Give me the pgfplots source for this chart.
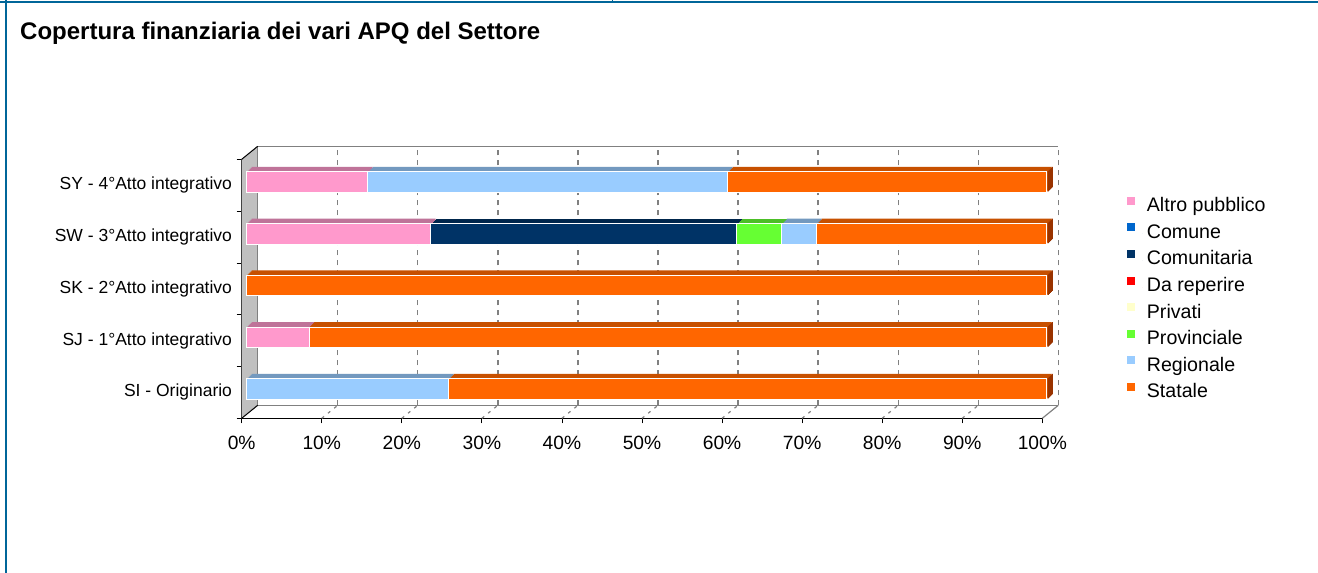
\documentclass[border=0pt]{standalone}
\usepackage{fontspec}
\setmainfont{Liberation Sans}
\usepackage{pgfplots}
\pgfplotsset{compat=1.18}
\usepackage{pgfplotstable}

\definecolor{altro}{HTML}{FF99CC}
\definecolor{comune}{HTML}{0066CC}
\definecolor{comunitaria}{HTML}{003366}
\definecolor{darep}{HTML}{FF0000}
\definecolor{privati}{HTML}{FFFFCC}
\definecolor{provinciale}{HTML}{66FF33}
\definecolor{regionale}{HTML}{99CCFF}
\definecolor{statale}{HTML}{FF6600}
\definecolor{statside}{HTML}{993300}
\definecolor{bordblue}{HTML}{006699}
\definecolor{wallgray}{HTML}{C0C0C0}
\definecolor{gridgray}{HTML}{808080}

\pgfplotstableread{
idx Altro Comune Comunitaria DaReperire Privati Provinciale Regionale Statale
0 0    0 0     0 0 0    25.25 74.75
1 7.8  0 0     0 0 0    0     92.2
2 0    0 0     0 0 0    0     100
3 23.0 0 38.25 0 0 5.65 4.35  28.75
4 15.1 0 0     0 0 0    45.0  39.9
}\datatable

\pgfplotsset{
  barax/.style={scale only axis, width=800pt, height=258.75pt, anchor=south west,
    xmin=0, xmax=100, ymin=-0.5, ymax=4.5, hide axis, clip=false,
    xbar stacked, bar width=20.5pt},
  sq/.style={legend image code/.code={\fill[##1,draw=none] (0pt,2.5pt) rectangle (8pt,10.5pt);\path (0pt,0pt) -- (15pt,0pt);}},
}
\tikzset{bk/.style={shift={(16pt,13pt)}}}
\newcommand{\catfont}{\fontsize{17.5}{21}\selectfont}
\newcommand{\tickfont}{\fontsize{19.2}{23}\selectfont}
\newcommand{\legfont}{\fontsize{19.6}{23}\selectfont}

\begin{document}
\begin{tikzpicture}
\path[use as bounding box, fill=white] (0pt,0pt) rectangle (1318pt,-573pt);
\fill[bordblue] (0pt,-0.9pt) rectangle (1318pt,-2.7pt);
\fill[bordblue] (5pt,0pt) rectangle (6.8pt,-573pt);
\fill[bordblue] (611.5pt,0pt) rectangle (613pt,-2pt);
\node[anchor=base west, inner sep=0pt, font=\bfseries\fontsize{24}{28}\selectfont] at (20pt,-39pt) {Copertura finanziaria dei vari APQ del Settore};

% frame: walls, gridlines, axes
\begin{axis}[
  at={(241.7pt,-418.3pt)}, anchor=south west,
  scale only axis, width=800.6pt, height=259pt,
  xmin=0, xmax=100, ymin=-0.5, ymax=4.5,
  clip=false,
  axis lines*=left, axis line style={-, black, line width=1pt},
  xtick={0,10,...,100},
  xticklabel={\pgfmathprintnumber{\tick}\%},
  ytick={-0.5,0.5,1.5,2.5,3.5,4.5}, yticklabels={},
  extra y ticks={0,1,2,3,4},
  extra y tick labels={SI - Originario, SJ - 1°Atto integrativo, SK - 2°Atto integrativo, SW - 3°Atto integrativo, SY - 4°Atto integrativo},
  extra y tick style={major tick length=0pt},
  tick align=outside, major tick length=5pt,
  tick style={black, line width=0.8pt},
  /pgf/number format/assume math mode=true,
  yticklabel style={font=\catfont, anchor=east, inner sep=0pt, xshift=-9.5pt},
  xticklabel style={font=\tickfont, anchor=north, inner sep=0pt, yshift=-12.5pt},
]
\fill[wallgray] (axis cs:0,-0.5) -- (axis cs:0,4.5) -- ([bk]axis cs:0,4.5) -- ([bk]axis cs:0,-0.5) -- cycle;
\pgfplotsinvokeforeach{10,20,...,90}{
  \draw[gridgray, line width=1.3pt, dash pattern=on 5pt off 5pt] ([bk]axis cs:#1,-0.5) -- ([bk]axis cs:#1,4.5);
  \draw[gridgray, line width=1.2pt, dash pattern=on 3pt off 5pt] (axis cs:#1,-0.5) -- ([bk]axis cs:#1,-0.5);
}
\draw[gridgray, line width=1.3pt, dash pattern=on 5pt off 5pt] ([bk]axis cs:100,-0.5) -- ([bk]axis cs:100,4.5);
\draw[gridgray, line width=1.2pt] ([bk]axis cs:0,-0.5) -- ([bk]axis cs:0,4.5) -- ([bk]axis cs:100,4.5);
\draw[gridgray, line width=1.2pt] ([bk]axis cs:0,-0.5) -- ([bk]axis cs:100,-0.5);
\draw[gridgray, line width=1.2pt] (axis cs:100,-0.5) -- ([bk]axis cs:100,-0.5);
\draw[black, line width=1pt] (axis cs:0,4.5) -- ([bk]axis cs:0,4.5);
\draw[black, line width=1pt] (axis cs:0,-0.5) -- ([bk]axis cs:0,-0.5);
\end{axis}

% depth layers of the bars (top and side faces)
\foreach \k in {5,4,3,2,1} {
\pgfmathsetmacro{\sx}{246.7+\k}
\pgfmathsetmacro{\sy}{-414.9+\k}
\begin{axis}[barax, at={(\sx pt,\sy pt)}]
\addplot[fill=altro!75!black, draw=none] table[x=Altro,y=idx]{\datatable};
\addplot[fill=comune!75!black, draw=none] table[x=Comune,y=idx]{\datatable};
\addplot[fill=comunitaria!75!black, draw=none] table[x=Comunitaria,y=idx]{\datatable};
\addplot[fill=darep!75!black, draw=none] table[x=DaReperire,y=idx]{\datatable};
\addplot[fill=privati!75!black, draw=none] table[x=Privati,y=idx]{\datatable};
\addplot[fill=provinciale!75!black, draw=none] table[x=Provinciale,y=idx]{\datatable};
\addplot[fill=regionale!75!black, draw=none] table[x=Regionale,y=idx]{\datatable};
\addplot[fill=statale!78!black, draw=none] table[x=Statale,y=idx]{\datatable};
\addplot[fill=statside, draw=none] coordinates {(0.15,0) (0.15,1) (0.15,2) (0.15,3) (0.15,4)};
\end{axis}
}

% front faces and legend
\begin{axis}[barax, at={(246.7pt,-414.9pt)},
  legend cell align=left,
  legend style={at={(axis description cs:1.1,0.844)}, anchor=north west,
    draw=none, fill=none, font=\legfont, inner sep=0pt,
    nodes={inner xsep=4pt, inner ysep=0pt, text height=13pt, text depth=4pt},
    row sep=7.6pt},
]
\addplot[fill=altro, draw=white, line width=1pt, sq] table[x=Altro,y=idx]{\datatable};
\addlegendentry{Altro pubblico}
\addplot[fill=comune, draw=white, line width=1pt, sq] table[x=Comune,y=idx]{\datatable};
\addlegendentry{Comune}
\addplot[fill=comunitaria, draw=white, line width=1pt, sq] table[x=Comunitaria,y=idx]{\datatable};
\addlegendentry{Comunitaria}
\addplot[fill=darep, draw=white, line width=1pt, sq] table[x=DaReperire,y=idx]{\datatable};
\addlegendentry{Da reperire}
\addplot[fill=privati, draw=white, line width=1pt, sq] table[x=Privati,y=idx]{\datatable};
\addlegendentry{Privati}
\addplot[fill=provinciale, draw=white, line width=1pt, sq] table[x=Provinciale,y=idx]{\datatable};
\addlegendentry{Provinciale}
\addplot[fill=regionale, draw=white, line width=1pt, sq] table[x=Regionale,y=idx]{\datatable};
\addlegendentry{Regionale}
\addplot[fill=statale, draw=white, line width=1pt, sq] table[x=Statale,y=idx]{\datatable};
\addlegendentry{Statale}
\end{axis}
\end{tikzpicture}
\end{document}
